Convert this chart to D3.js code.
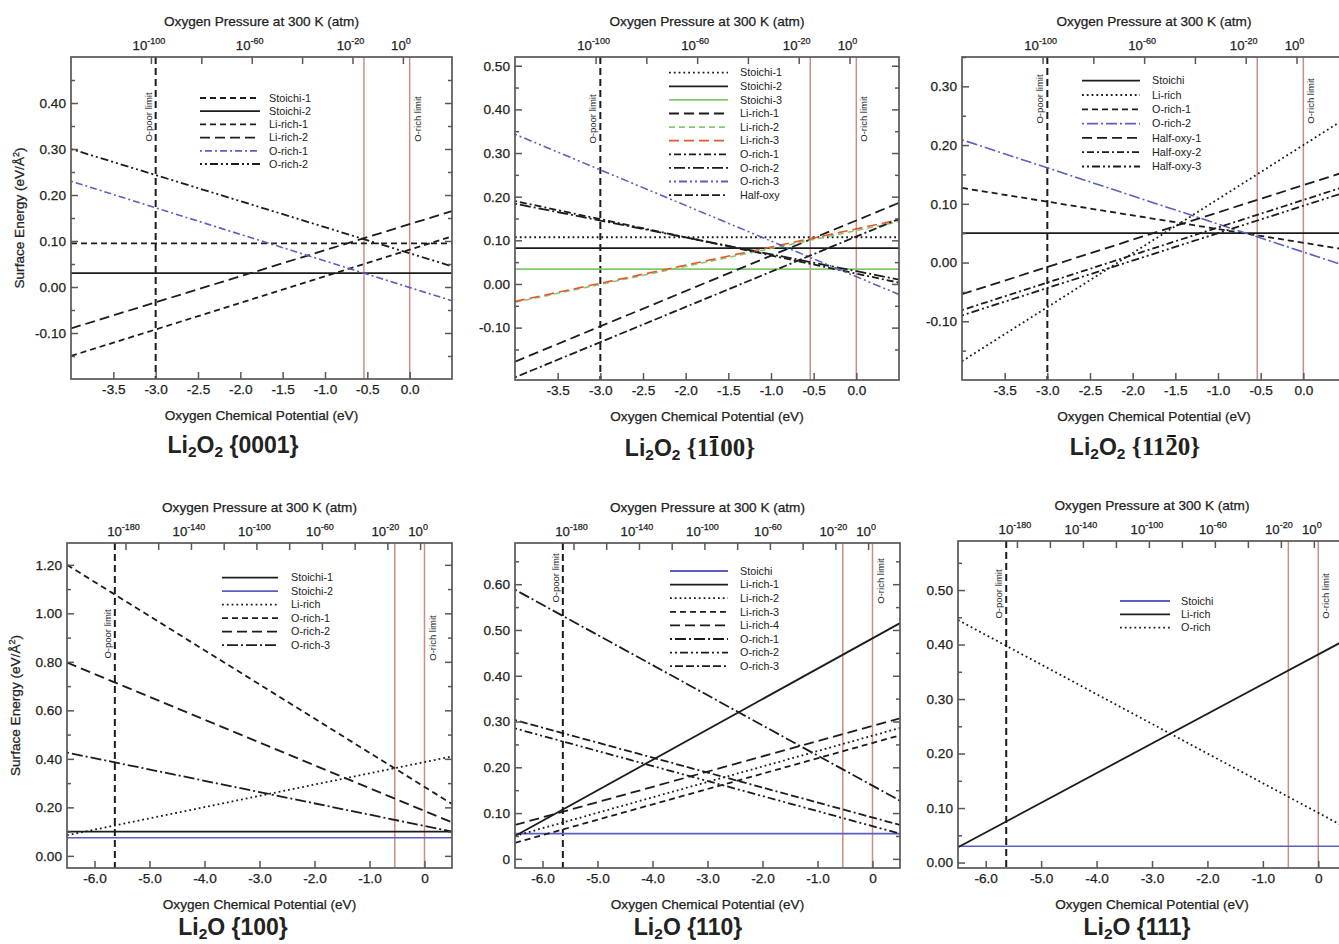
<!DOCTYPE html>
<html><head><meta charset="utf-8">
<script src="https://cdn.jsdelivr.net/npm/d3@7"></script>
<style>
body{margin:0;background:#fff}
svg{display:block}
text{font-family:"Liberation Sans",Arial,Helvetica,sans-serif;fill:#222}
</style>
</head><body>
<svg id="c" width="1339" height="944"></svg>
<script>
// ---------------- DATA ----------------
// Oxygen chemical potential domains (eV): each line is given by its value at both ends
const muLi2O2 = [-4.0, 0.5];
const muLi2O = [-6.5, 0.5];
const oPoorLi2O2 = -3.0;
const oPoorLi2O = -5.63;
const oRichLimit = 0.0;
const redLimit = -0.54;

// x tick labels
const xTicksLi2O2 = [-3.5, -3.0, -2.5, -2.0, -1.5, -1.0, -0.5, 0.0];
const xTicksLi2O = [-6, -5, -4, -3, -2, -1, 0];
// pressure (log10 atm) tick marks and labels
const pTicksLi2O2 = [-100, -80, -60, -40, -20, 0];
const pLabelsLi2O2 = [-100, -60, -20, 0];
const pTicksLi2O = [-180, -160, -140, -120, -100, -80, -60, -40, -20, 0];
const pLabelsLi2O = [-180, -140, -100, -60, -20, 0];

// Panel 1: Li2O2 {0001}
const p1Names = ["Stoichi-1", "Stoichi-2", "Li-rich-1", "Li-rich-2", "O-rich-1", "O-rich-2"];
const p1Left  = [0.095, 0.030, -0.150, -0.090, 0.230, 0.300];
const p1Right = [0.095, 0.030, 0.110, 0.165, -0.030, 0.045];
const p1YTicks = [-0.1, 0.0, 0.1, 0.2, 0.3, 0.4];

// Panel 2: Li2O2 {1-100}
const p2Names = ["Stoichi-1", "Stoichi-2", "Stoichi-3", "Li-rich-1", "Li-rich-2", "Li-rich-3", "O-rich-1", "O-rich-2", "O-rich-3", "Half-oxy"];
const p2Left  = [0.107, 0.082, 0.034, -0.178, -0.042, -0.040, 0.190, 0.184, 0.343, -0.214];
const p2Right = [0.107, 0.082, 0.034, 0.186, 0.143, 0.147, 0.003, 0.010, -0.024, 0.149];
const p2YTicks = [-0.1, 0.0, 0.1, 0.2, 0.3, 0.4, 0.5];

// Panel 3: Li2O2 {11-20}
const p3Names = ["Stoichi", "Li-rich", "O-rich-1", "O-rich-2", "Half-oxy-1", "Half-oxy-2", "Half-oxy-3"];
const p3Left  = [0.050, -0.168, 0.127, 0.209, -0.054, -0.081, -0.090];
const p3Right = [0.050, 0.246, 0.022, -0.006, 0.155, 0.130, 0.120];
const p3YTicks = [-0.1, 0.0, 0.1, 0.2, 0.3];

// Panel 4: Li2O {100}
const p4Names = ["Stoichi-1", "Stoichi-2", "Li-rich", "O-rich-1", "O-rich-2", "O-rich-3"];
const p4Left  = [0.100, 0.075, 0.085, 1.200, 0.797, 0.426];
const p4Right = [0.100, 0.075, 0.410, 0.214, 0.138, 0.100];
const p4YTicks = [0.0, 0.2, 0.4, 0.6, 0.8, 1.0, 1.2];

// Panel 5: Li2O {110}
const p5Names = ["Stoichi", "Li-rich-1", "Li-rich-2", "Li-rich-3", "Li-rich-4", "O-rich-1", "O-rich-2", "O-rich-3"];
const p5Left  = [0.055, 0.050, 0.050, 0.035, 0.074, 0.588, 0.285, 0.303];
const p5Right = [0.055, 0.515, 0.286, 0.270, 0.307, 0.127, 0.055, 0.074];
const p5YTicks = [0.0, 0.1, 0.2, 0.3, 0.4, 0.5, 0.6];

// Panel 6: Li2O {111}
const p6Names = ["Stoichi", "Li-rich", "O-rich"];
const p6Left  = [0.030, 0.028, 0.445];
const p6Right = [0.030, 0.409, 0.064];
const p6YTicks = [0.0, 0.1, 0.2, 0.3, 0.4, 0.5];

// ---------------- STYLES ----------------
const C = {k: "#1c1c1c", b: "#5b5ec2", g: "#82c970", r: "#e8582c"};
const D = {
  solid: null, dot: "1.8,3", dash: "6,4", long: "10,5",
  dotdash: "2,3,7,3", longdot: "2,3,11,3", ddd: "2,3,2,3,8,3", ddash: "2,3,8,3,8,3"
};
const p1Style = [["k","dash"],["k","solid"],["k","dash"],["k","long"],["b","dotdash"],["k","ddd"]];
const p2Style = [["k","dot"],["k","solid"],["g","solid"],["k","long"],["g","dash"],["r","long"],["k","dotdash"],["k","longdot"],["b","ddd"],["k","ddash"]];
const p3Style = [["k","solid"],["k","dot"],["k","dash"],["b","longdot"],["k","long"],["k","dotdash"],["k","ddd"]];
const p4Style = [["k","solid"],["b","solid"],["k","dot"],["k","dash"],["k","long"],["k","longdot"]];
const p5Style = [["b","solid"],["k","solid"],["k","dot"],["k","dash"],["k","long"],["k","longdot"],["k","ddd"],["k","ddash"]];
const p6Style = [["b","solid"],["k","solid"],["k","dot"]];

const P0 = -0.08, DEC = 0.02976; // mu = P0 + DEC*log10(p)

const svg = d3.select("#c");
const FRAME = "#5c5656";
const FS = 13.6; // axis text size

function fmt2(v){ return d3.format(".2f")(v).replace("−","-"); }
function fmt1(v){ return d3.format(".1f")(v).replace("−","-"); }

function heavy(sel){ return sel.attr("stroke", "#222").attr("stroke-width", 0.25); }

function panel(cfg){
  const g = svg.append("g");
  const x = d3.scaleLinear().domain(cfg.mu).range([cfg.L, cfg.R]);
  const y = d3.scaleLinear().domain(cfg.yDom).range([cfg.B, cfg.T]);
  const clipId = "clip" + cfg.id;
  svg.append("clipPath").attr("id", clipId).append("rect")
    .attr("x", cfg.L).attr("y", cfg.T).attr("width", cfg.R - cfg.L).attr("height", cfg.B - cfg.T);
  const plot = g.append("g").attr("clip-path", `url(#${clipId})`);

  // limit lines
  [redLimit, oRichLimit].forEach(m => plot.append("line")
    .attr("x1", x(m)).attr("x2", x(m)).attr("y1", cfg.T).attr("y2", cfg.B)
    .attr("stroke", "#c98f86").attr("stroke-width", 1.5));
  plot.append("line").attr("x1", x(cfg.oPoor)).attr("x2", x(cfg.oPoor))
    .attr("y1", cfg.T).attr("y2", cfg.B).attr("stroke", "#1c1c1c")
    .attr("stroke-width", 2).attr("stroke-dasharray", "7,4");

  // series
  const line = d3.line().x(d => x(d[0])).y(d => y(d[1]));
  cfg.names.forEach((n, i) => {
    const st = cfg.style[i];
    plot.append("path")
      .datum([[cfg.mu[0], cfg.left[i]], [cfg.mu[1], cfg.right[i]]])
      .attr("d", line).attr("fill", "none")
      .attr("stroke", C[st[0]]).attr("stroke-width", st[0] === "k" ? 1.8 : 1.6)
      .attr("stroke-dasharray", D[st[1]]);
  });

  // limit labels
  g.append("text").attr("transform", `translate(${x(cfg.oPoor) - 4},${cfg.poorY}) rotate(-90)`)
    .attr("text-anchor", "middle").attr("font-size", 9.5).text("O-poor limit");
  g.append("text").attr("transform", `translate(${x(oRichLimit) + 11},${cfg.richY}) rotate(-90)`)
    .attr("text-anchor", "middle").attr("font-size", 9.5).text("O-rich limit");

  // axes (ticks pointing inward)
  const yMinor = cfg.yMinor;
  const ax = g.append("g").attr("class", "axes");
  ax.append("g").attr("transform", `translate(${cfg.L},0)`)
    .call(d3.axisLeft(y).tickValues(cfg.yTicks).tickSize(-7).tickPadding(5).tickFormat(cfg.yFmt));
  ax.append("g").attr("transform", `translate(${cfg.L},0)`)
    .call(d3.axisLeft(y).tickValues(yMinor).tickSize(-4).tickFormat(""));
  ax.append("g").attr("transform", `translate(${cfg.R},0)`)
    .call(d3.axisRight(y).tickValues(cfg.yTicks).tickSize(-7).tickFormat(""));
  ax.append("g").attr("transform", `translate(${cfg.R},0)`)
    .call(d3.axisRight(y).tickValues(yMinor).tickSize(-4).tickFormat(""));
  ax.append("g").attr("transform", `translate(0,${cfg.B})`)
    .call(d3.axisBottom(x).tickValues(cfg.xTicks).tickSize(-7).tickPadding(5).tickFormat(cfg.xFmt));
  const pScale = d3.scaleLinear().domain(cfg.mu.map(m => (m - P0) / DEC)).range([cfg.L, cfg.R]);
  ax.append("g").attr("transform", `translate(0,${cfg.T})`)
    .call(d3.axisTop(pScale).tickValues(cfg.pTicks).tickSize(-7).tickFormat(""));
  ax.selectAll(".domain").remove();
  ax.selectAll(".tick line").attr("stroke", FRAME).attr("stroke-width", 1.5);
  heavy(ax.selectAll(".tick text").attr("font-size", FS).attr("fill", "#222")
    .attr("font-family", '"Liberation Sans",Arial,sans-serif'));

  // pressure labels
  cfg.pLabels.forEach(d => {
    const t = g.append("text").attr("x", pScale(d) - 2).attr("y", cfg.T - 7)
      .attr("text-anchor", "middle").attr("font-size", 13.2);
    heavy(t);
    t.append("tspan").text("10");
    t.append("tspan").attr("dy", -6).attr("font-size", 9).text(String(d));
  });

  // frame
  g.append("rect").attr("x", cfg.L).attr("y", cfg.T).attr("width", cfg.R - cfg.L)
    .attr("height", cfg.B - cfg.T).attr("fill", "none").attr("stroke", FRAME).attr("stroke-width", 1.7);

  // axis titles
  const cx = (cfg.L + cfg.R) / 2;
  heavy(g.append("text").attr("x", cx).attr("y", cfg.T - 31).attr("text-anchor", "middle")
    .attr("font-size", FS).text("Oxygen Pressure at 300 K (atm)"));
  heavy(g.append("text").attr("x", cx).attr("y", cfg.B + 41).attr("text-anchor", "middle")
    .attr("font-size", FS).text("Oxygen Chemical Potential (eV)"));
  if (cfg.yTitle) {
    const t = g.append("text").attr("transform", `translate(${cfg.L - 47},${(cfg.T + cfg.B) / 2}) rotate(-90)`)
      .attr("text-anchor", "middle").attr("font-size", FS);
    heavy(t);
    t.append("tspan").text("Surface Energy (eV/Å");
    t.append("tspan").attr("dy", -5).attr("font-size", 9).text("2");
    t.append("tspan").attr("dy", 5).text(")");
  }

  // legend
  cfg.names.forEach((n, i) => {
    const st = cfg.style[i];
    const ly = cfg.leg.y + i * cfg.leg.dy;
    g.append("line").attr("x1", cfg.leg.x1).attr("x2", cfg.leg.x2).attr("y1", ly).attr("y2", ly)
      .attr("stroke", C[st[0]]).attr("stroke-width", 1.8).attr("stroke-dasharray", D[st[1]]);
    g.append("text").attr("x", cfg.leg.tx).attr("y", ly).attr("dy", "0.35em")
      .attr("font-size", 10.8).text(n);
  });

  // panel title
  const tt = g.append("text").attr("x", cfg.title.x).attr("y", cfg.title.y)
    .attr("text-anchor", "middle").attr("font-size", 23).attr("font-weight", "bold").attr("fill", "#111");
  tt.append("tspan").text("Li");
  tt.append("tspan").attr("dy", 4).attr("font-size", 15.5).text("2");
  tt.append("tspan").attr("dy", -4).text("O");
  if (cfg.title.o2) {
    tt.append("tspan").attr("dy", 4).attr("font-size", 15.5).text("2");
    tt.append("tspan").attr("dy", -4).text(" ");
  } else tt.append("tspan").text(" ");
  if (cfg.title.serif) {
    tt.append("tspan").attr("font-family", '"Liberation Serif","DejaVu Serif",serif')
      .attr("font-size", 25).text(cfg.title.idx);
  } else {
    tt.append("tspan").text(cfg.title.idx);
  }
  if (cfg.title.bar !== undefined) {
    const node = tt.node();
    const full = node.textContent;
    const pos = full.length - cfg.title.idx.length + cfg.title.bar;
    const ext = node.getExtentOfChar(pos);
    g.append("line").attr("x1", ext.x + 2).attr("x2", ext.x + ext.width - 2)
      .attr("y1", ext.y + 3).attr("y2", ext.y + 3).attr("stroke", "#111").attr("stroke-width", 2);
  }
}

const yF2 = v => fmt2(v);
const yF5 = v => v === 0 ? "0" : fmt2(v);
const xF1 = v => fmt1(v);
const xFO = v => v === 0 ? "0" : fmt1(v);
const mids = (a, b, s) => d3.range(Math.round((b - a) / s) + 1).map(i => +(a + i * s).toFixed(3));

panel({id:1, mu:muLi2O2, oPoor:oPoorLi2O2, L:71, R:452, T:57, B:379, yDom:[-0.2,0.5],
  names:p1Names, left:p1Left, right:p1Right, style:p1Style,
  yTicks:p1YTicks, yMinor:mids(-0.15,0.45,0.1), yFmt:yF2, xTicks:xTicksLi2O2, xFmt:xF1,
  pTicks:pTicksLi2O2, pLabels:pLabelsLi2O2, yTitle:true, poorY:117, richY:119,
  leg:{x1:200, x2:260, tx:269, y:98, dy:13.2},
  title:{x:233, y:453, o2:true, idx:"{0001}"}});

panel({id:2, mu:muLi2O2, oPoor:oPoorLi2O2, L:515, R:899, T:57, B:380, yDom:[-0.22,0.52],
  names:p2Names, left:p2Left, right:p2Right, style:p2Style,
  yTicks:p2YTicks, yMinor:mids(-0.15,0.45,0.1), yFmt:yF2, xTicks:xTicksLi2O2, xFmt:xF1,
  pTicks:pTicksLi2O2, pLabels:pLabelsLi2O2, yTitle:false, poorY:119, richY:119,
  leg:{x1:669, x2:728, tx:740, y:72.7, dy:13.6},
  title:{x:690, y:456, o2:true, serif:true, idx:"{1100}", bar:2}});

panel({id:3, mu:muLi2O2, oPoor:oPoorLi2O2, L:962, R:1346, T:57, B:380, yDom:[-0.2,0.35],
  names:p3Names, left:p3Left, right:p3Right, style:p3Style,
  yTicks:p3YTicks, yMinor:mids(-0.15,0.35,0.1), yFmt:yF2, xTicks:xTicksLi2O2, xFmt:xF1,
  pTicks:pTicksLi2O2, pLabels:pLabelsLi2O2, yTitle:false, poorY:99, richY:101,
  leg:{x1:1082, x2:1140, tx:1152, y:80.7, dy:14.3},
  title:{x:1135, y:455, o2:true, serif:true, idx:"{1120}", bar:3}});

panel({id:4, mu:muLi2O, oPoor:oPoorLi2O, L:67, R:452, T:543, B:868, yDom:[-0.05,1.29],
  names:p4Names, left:p4Left, right:p4Right, style:p4Style,
  yTicks:p4YTicks, yMinor:mids(0.1,1.2,0.2), yFmt:yF2, xTicks:xTicksLi2O, xFmt:xFO,
  pTicks:pTicksLi2O, pLabels:pLabelsLi2O, yTitle:true, poorY:634, richY:638,
  leg:{x1:222, x2:278, tx:291, y:577.7, dy:13.5},
  title:{x:233, y:935, o2:false, idx:"{100}"}});

panel({id:5, mu:muLi2O, oPoor:oPoorLi2O, L:515, R:900, T:543, B:868, yDom:[-0.02,0.69],
  names:p5Names, left:p5Left, right:p5Right, style:p5Style,
  yTicks:p5YTicks, yMinor:mids(0.05,0.65,0.1), yFmt:yF5, xTicks:xTicksLi2O, xFmt:xFO,
  pTicks:pTicksLi2O, pLabels:pLabelsLi2O, yTitle:false, poorY:578, richY:581,
  leg:{x1:670, x2:728, tx:740, y:571, dy:13.6},
  title:{x:688, y:935, o2:false, idx:"{110}"}});

panel({id:6, mu:muLi2O, oPoor:oPoorLi2O, L:958, R:1346, T:541, B:868, yDom:[-0.01,0.59],
  names:p6Names, left:p6Left, right:p6Right, style:p6Style,
  yTicks:p6YTicks, yMinor:mids(0.05,0.55,0.1), yFmt:yF2, xTicks:xTicksLi2O, xFmt:xFO,
  pTicks:pTicksLi2O, pLabels:pLabelsLi2O, yTitle:false, poorY:594, richY:596,
  leg:{x1:1120, x2:1170, tx:1181, y:601, dy:13.3},
  title:{x:1137, y:935, o2:false, idx:"{111}"}});
</script>
</body></html>
